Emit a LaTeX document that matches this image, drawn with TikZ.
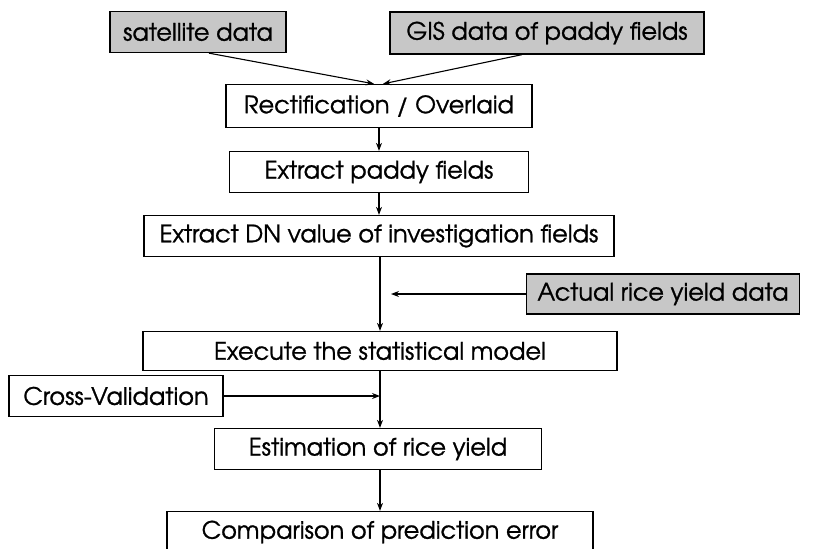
\documentclass[tikz,border=0pt]{standalone}
\usepackage{fontspec}
\setmainfont[FakeBold=1]{TeX Gyre Adventor}
\usetikzlibrary{arrows.meta,calc}
\tikzset{
  box/.style={draw=black, line width=1.3pt, fill=white, inner sep=0pt, anchor=center,
    font=\fontsize{24}{28}\selectfont},
  gbox/.style={box, fill=black!22},
  link/.style={draw=black, line width=1.1pt, -{Stealth[length=8pt,width=6pt]}}
}
\begin{document}
\begin{tikzpicture}[x=1pt,y=-1pt]
\useasboundingbox (0,0) rectangle (817,549);
\node[gbox, minimum width=176pt, minimum height=41pt] (sat) at (198,32) {satellite data};
\node[gbox, minimum width=314pt, minimum height=42pt] (gis) at (547,33) {GIS data of paddy fields};
\node[box, minimum width=306pt, minimum height=43pt] (rect) at (379,106) {Rectification / Overlaid};
\node[box, minimum width=299pt, minimum height=41pt] (paddy) at (379,172) {Extract paddy fields};
\node[box, minimum width=470pt, minimum height=41pt] (dn) at (379,236) {Extract DN value of investigation fields};
\node[gbox, minimum width=273pt, minimum height=40pt] (actual) at (663,294) {Actual rice yield data};
\node[box, minimum width=474pt, minimum height=39pt] (exec) at (380,351) {Execute the statistical model};
\node[box, minimum width=214pt, minimum height=41pt] (cv) at (116,396) {Cross-Validation};
\node[box, minimum width=327pt, minimum height=41pt] (est) at (378,449) {Estimation of rice yield};
\node[box, minimum width=426pt, minimum height=41pt] (comp) at (380,532) {Comparison of prediction error};
\coordinate (ya) at (391,294);
\coordinate (cvend) at (380,396);
\draw[link] ([xshift=11pt]sat.south) -- ([xshift=-5pt]rect.north);
\draw[link] ([xshift=-25pt]gis.south) -- ([xshift=4pt]rect.north);
\draw[link] (rect.south) -- (paddy.north);
\draw[link] (paddy.south) -- (paddy.south |- dn.north);
\draw[link] (dn.south -| exec.north) -- (exec.north);
\draw[link] (actual.west) -- (ya);
\draw[link] (exec.south) -- (exec.south |- est.north);
\draw[link] (cv.east) -- (cvend);
\draw[link] (est.south -| comp.north) -- (comp.north);
\end{tikzpicture}
\end{document}
